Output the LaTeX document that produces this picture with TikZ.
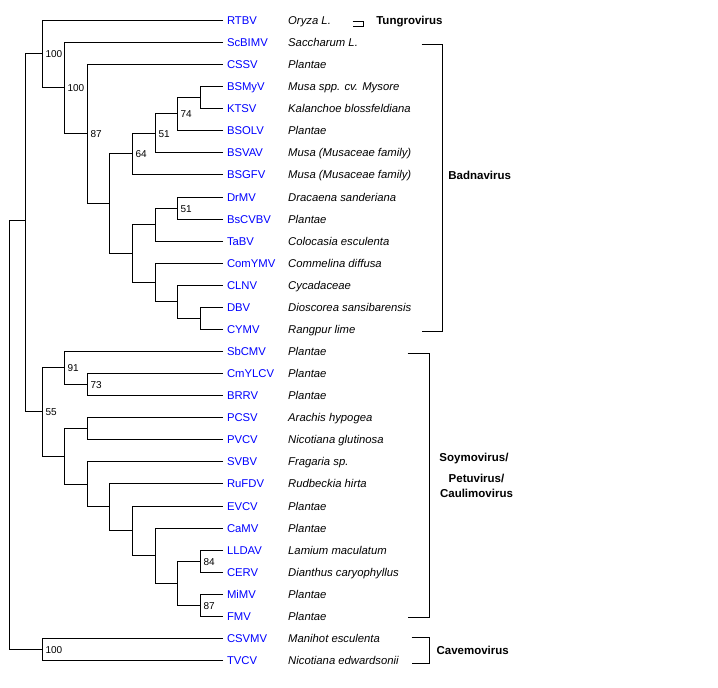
\documentclass[tikz,border=0pt]{standalone}
\usepackage{fontspec}
\setmainfont{Liberation Sans}
\begin{document}
\begin{tikzpicture}[x=1pt,y=-1pt,line width=1pt,
		leaf/.style={anchor=west,inner sep=3.5pt,text height=8.1pt,text depth=0pt,text=blue,font=\fontsize{11.3}{13}\selectfont},
		host/.style={anchor=west,inner sep=0pt,text height=8.1pt,text depth=0pt,font=\fontsize{11.3}{13}\selectfont\itshape},
		boot/.style={anchor=west,inner sep=0pt,xshift=2.5pt,text height=7.2pt,text depth=0pt,font=\fontsize{10}{12}\selectfont},
		genus/.style={inner sep=0pt,font=\fontsize{11.5}{15}\selectfont\bfseries}]
			\useasboundingbox (0,0) rectangle (718,688);
			\node[leaf] (RTBV) at (223,20.5) {RTBV};
			\node[leaf] (ScBIMV) at (223,42.5) {ScBIMV};
			\node[leaf] (CSSV) at (223,64.5) {CSSV};
			\node[leaf] (BSMyV) at (223,86.5) {BSMyV};
			\node[leaf] (KTSV) at (223,108.5) {KTSV};
			\node[leaf] (BSOLV) at (223,130.5) {BSOLV};
			\node[leaf] (BSVAV) at (223,152.5) {BSVAV};
			\node[leaf] (BSGFV) at (223,174.5) {BSGFV};
			\node[leaf] (DrMV) at (223,197.5) {DrMV};
			\node[leaf] (BsCVBV) at (223,219.5) {BsCVBV};
			\node[leaf] (TaBV) at (223,241.5) {TaBV};
			\node[leaf] (ComYMV) at (223,263.5) {ComYMV};
			\node[leaf] (CLNV) at (223,285.5) {CLNV};
			\node[leaf] (DBV) at (223,307.5) {DBV};
			\node[leaf] (CYMV) at (223,329.5) {CYMV};
			\node[leaf] (SbCMV) at (223,351.5) {SbCMV};
			\node[leaf] (CmYLCV) at (223,373.5) {CmYLCV};
			\node[leaf] (BRRV) at (223,395.5) {BRRV};
			\node[leaf] (PCSV) at (223,417.5) {PCSV};
			\node[leaf] (PVCV) at (223,439.5) {PVCV};
			\node[leaf] (SVBV) at (223,461.5) {SVBV};
			\node[leaf] (RuFDV) at (223,483.5) {RuFDV};
			\node[leaf] (EVCV) at (223,506.5) {EVCV};
			\node[leaf] (CaMV) at (223,528.5) {CaMV};
			\node[leaf] (LLDAV) at (223,550.5) {LLDAV};
			\node[leaf] (CERV) at (223,572.5) {CERV};
			\node[leaf] (MiMV) at (223,594.5) {MiMV};
			\node[leaf] (FMV) at (223,616.5) {FMV};
			\node[leaf] (CSVMV) at (223,638.5) {CSVMV};
			\node[leaf] (TVCV) at (223,660.5) {TVCV};
			\node[host] (hRTBV) at (287.7,20.5) {Oryza L.};
			\node[host] (hScBIMV) at (287.7,42.5) {Saccharum L.};
			\node[host] (hCSSV) at (287.7,64.5) {Plantae};
			\node[host] (hBSMyV) at (287.7,86.5) {Musa spp. cv. Mysore};
			\node[host] (hKTSV) at (287.7,108.5) {Kalanchoe blossfeldiana};
			\node[host] (hBSOLV) at (287.7,130.5) {Plantae};
			\node[host] (hBSVAV) at (287.7,152.5) {Musa (Musaceae family)};
			\node[host] (hBSGFV) at (287.7,174.5) {Musa (Musaceae family)};
			\node[host] (hDrMV) at (287.7,197.5) {Dracaena sanderiana};
			\node[host] (hBsCVBV) at (287.7,219.5) {Plantae};
			\node[host] (hTaBV) at (287.7,241.5) {Colocasia esculenta};
			\node[host] (hComYMV) at (287.7,263.5) {Commelina diffusa};
			\node[host] (hCLNV) at (287.7,285.5) {Cycadaceae};
			\node[host] (hDBV) at (287.7,307.5) {Dioscorea sansibarensis};
			\node[host] (hCYMV) at (287.7,329.5) {Rangpur lime};
			\node[host] (hSbCMV) at (287.7,351.5) {Plantae};
			\node[host] (hCmYLCV) at (287.7,373.5) {Plantae};
			\node[host] (hBRRV) at (287.7,395.5) {Plantae};
			\node[host] (hPCSV) at (287.7,417.5) {Arachis hypogea};
			\node[host] (hPVCV) at (287.7,439.5) {Nicotiana glutinosa};
			\node[host] (hSVBV) at (287.7,461.5) {Fragaria sp.};
			\node[host] (hRuFDV) at (287.7,483.5) {Rudbeckia hirta};
			\node[host] (hEVCV) at (287.7,506.5) {Plantae};
			\node[host] (hCaMV) at (287.7,528.5) {Plantae};
			\node[host] (hLLDAV) at (287.7,550.5) {Lamium maculatum};
			\node[host] (hCERV) at (287.7,572.5) {Dianthus caryophyllus};
			\node[host] (hMiMV) at (287.7,594.5) {Plantae};
			\node[host] (hFMV) at (287.7,616.5) {Plantae};
			\node[host] (hCSVMV) at (287.7,638.5) {Manihot esculenta};
			\node[host] (hTVCV) at (287.7,660.5) {Nicotiana edwardsonii};
			\coordinate (Root) at (9.5,435.5);
			\coordinate (A) at (25.5,220.5);
			\coordinate (B) at (42.5,53.5);
			\coordinate (C) at (64.5,87.5);
			\coordinate (D) at (87.5,133.5);
			\coordinate (E) at (109.5,203.5);
			\coordinate (F) at (132.5,153.5);
			\coordinate (G) at (155.5,133.5);
			\coordinate (H) at (177.5,113.5);
			\coordinate (I) at (200.5,97.5);
			\coordinate (J) at (132.5,253.5);
			\coordinate (K) at (155.5,224.5);
			\coordinate (L) at (177.5,208.5);
			\coordinate (M) at (155.5,282.5);
			\coordinate (N) at (177.5,301.5);
			\coordinate (O) at (200.5,318.5);
			\coordinate (P) at (42.5,411.5);
			\coordinate (Q) at (64.5,367.5);
			\coordinate (S) at (87.5,384.5);
			\coordinate (R) at (64.5,456.5);
			\coordinate (T) at (87.5,428.5);
			\coordinate (U) at (87.5,484.5);
			\coordinate (V) at (109.5,506.5);
			\coordinate (W) at (132.5,530.5);
			\coordinate (X) at (155.5,555.5);
			\coordinate (Y) at (177.5,583.5);
			\coordinate (Z1) at (200.5,561.5);
			\coordinate (Z2) at (200.5,605.5);
			\coordinate (Cv) at (42.5,649.5);
			\draw (A) -| (Root);
			\draw (Cv) -| (Root);
			\draw (B) -| (A);
			\draw (P) -| (A);
			\draw (RTBV.west) -| (B);
			\draw (C) -| (B);
			\draw (ScBIMV.west) -| (C);
			\draw (D) -| (C);
			\draw (CSSV.west) -| (D);
			\draw (E) -| (D);
			\draw (F) -| (E);
			\draw (J) -| (E);
			\draw (G) -| (F);
			\draw (BSGFV.west) -| (F);
			\draw (H) -| (G);
			\draw (BSVAV.west) -| (G);
			\draw (I) -| (H);
			\draw (BSOLV.west) -| (H);
			\draw (BSMyV.west) -| (I);
			\draw (KTSV.west) -| (I);
			\draw (K) -| (J);
			\draw (M) -| (J);
			\draw (L) -| (K);
			\draw (TaBV.west) -| (K);
			\draw (DrMV.west) -| (L);
			\draw (BsCVBV.west) -| (L);
			\draw (ComYMV.west) -| (M);
			\draw (N) -| (M);
			\draw (CLNV.west) -| (N);
			\draw (O) -| (N);
			\draw (DBV.west) -| (O);
			\draw (CYMV.west) -| (O);
			\draw (Q) -| (P);
			\draw (R) -| (P);
			\draw (SbCMV.west) -| (Q);
			\draw (S) -| (Q);
			\draw (CmYLCV.west) -| (S);
			\draw (BRRV.west) -| (S);
			\draw (T) -| (R);
			\draw (U) -| (R);
			\draw (PCSV.west) -| (T);
			\draw (PVCV.west) -| (T);
			\draw (SVBV.west) -| (U);
			\draw (V) -| (U);
			\draw (RuFDV.west) -| (V);
			\draw (W) -| (V);
			\draw (EVCV.west) -| (W);
			\draw (X) -| (W);
			\draw (CaMV.west) -| (X);
			\draw (Y) -| (X);
			\draw (Z1) -| (Y);
			\draw (Z2) -| (Y);
			\draw (LLDAV.west) -| (Z1);
			\draw (CERV.west) -| (Z1);
			\draw (MiMV.west) -| (Z2);
			\draw (FMV.west) -| (Z2);
			\draw (CSVMV.west) -| (Cv);
			\draw (TVCV.west) -| (Cv);
			\node[boot] (bB) at (B) {100};
			\node[boot] (bC) at (C) {100};
			\node[boot] (bD) at (D) {87};
			\node[boot] (bF) at (F) {64};
			\node[boot] (bG) at (G) {51};
			\node[boot] (bH) at (H) {74};
			\node[boot] (bL) at (L) {51};
			\node[boot] (bP) at (P) {55};
			\node[boot] (bQ) at (Q) {91};
			\node[boot] (bS) at (S) {73};
			\node[boot] (bZ1) at (Z1) {84};
			\node[boot] (bZ2) at (Z2) {87};
			\node[boot] (bCv) at (Cv) {100};
			\draw (352.5,21.5) -| (363.5,26.5) -- (352.5,26.5);
			\draw (421.5,44.5) -| (442.5,331.5) -- (421.5,331.5);
			\draw (407.5,353.5) -| (429.5,617.5) -- (407.5,617.5);
			\draw (411.5,637.5) -| (429.5,663.5) -- (411.5,663.5);
			\node[genus,anchor=west,text height=8.2pt,text depth=0pt] (tungro) at (375.8,20.3) {Tungrovirus};
			\node[genus,anchor=west,text height=8.2pt,text depth=0pt] (badna) at (447.9,175.7) {Badnavirus};
			\node[genus,text height=8.2pt,text depth=0pt] (soymo) at (474,457.3) {Soymovirus/};
			\node[genus,align=center] (caulimo) at (476.5,485.7) {Petuvirus/\\Caulimovirus};
			\node[genus,anchor=west,text height=8.2pt,text depth=0pt] (cavemo) at (436.1,650.7) {Cavemovirus};
		\end{tikzpicture}
\end{document}
